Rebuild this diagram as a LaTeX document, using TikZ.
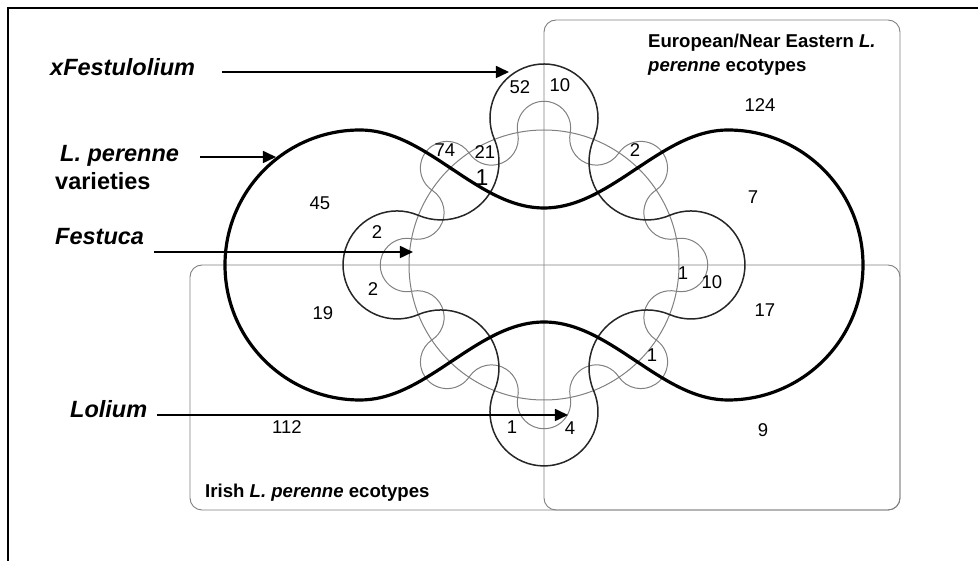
\documentclass[tikz,border=0pt]{standalone}
\usepackage{fontspec}
\setmainfont{Liberation Sans}
\usetikzlibrary{arrows.meta}

\begin{document}
\begin{tikzpicture}[x=1pt,y=1pt,
		box/.style={black!50,line width=0.9pt,rounded corners=12pt},
		festuca/.style={black!50,line width=1pt},
		lolium/.style={black!50,line width=1pt},
		festulolium/.style={black!85,line width=1.5pt},
		varieties/.style={black,line width=3.2pt},
		arr/.style={-{Triangle[length=13pt,width=12pt]},line width=1.6pt},
		lab/.style={font=\fontsize{23.5}{28}\selectfont\bfseries\itshape,inner sep=0pt,anchor=base west},
		num/.style={font=\fontsize{18.5}{20}\selectfont,inner sep=0pt},
		eco/.style={font=\fontsize{18.6}{24}\selectfont\bfseries,inner sep=0pt,anchor=base west}]
		
		\useasboundingbox (-544,-296) rectangle (434,265);
		
		% frame (only top and left side are inside the picture)
		\draw[line width=1.5pt] (-536,-296) -- (-536,257) -- (434,257);
		
		% --- ecotype boxes: European = right half, Irish = lower half ---
		\draw[box] (0,-245) rectangle (356,245);
		\draw[box] (-354,-245) rectangle (356,0);
		
		% Festuca: circle
		\draw[festuca] (0,0) circle[radius=135];
		
		% Lolium: 16 half circles, out and in, round the circle
		\draw[lolium] (0:137) ++(-101.25:26.73)
		\foreach \a in {0,45,...,315}{
			arc[start angle=\a-101.25,end angle=\a+101.25,radius=26.73]
			arc[start angle=\a-78.75,end angle=\a-236.25,radius=26.73]
		} -- cycle;
		
		% xFestulolium: four lobes joined by hollow arcs
		\draw[festulolium] (0,147) ++(-23.1:54)
		\foreach \r in {0,90,180,270}{
			arc[start angle=\r-23.1,end angle=\r+203.1,radius=54]
			arc[start angle=\r+23.1,end angle=\r-113.1,radius=58]
		} -- cycle;
		
		% L. perenne varieties: two big lobes, pinched in the middle
		\draw[varieties] (-184,135) arc[start angle=90,end angle=270,radius=135]
		-- plot[domain=0:360,samples=73] ({-184+\x/180*184},{-96-39*cos(\x)})
		-- (184,-135) arc[start angle=-90,end angle=90,radius=135]
		-- plot[domain=360:0,samples=73] ({-184+\x/180*184},{96+39*cos(\x)})
		-- cycle;
		
		% --- set labels and their arrows ---
		\node[lab] (xfes) at (-494,189) {xFestulolium};
		\node[lab] (lper) at (-484,103) {L. perenne};
		\node[lab,font=\fontsize{23.5}{28}\selectfont\bfseries] (lvar) at (-489,75) {varieties};
		\node[lab] (fes) at (-489,20) {Festuca};
		\node[lab] (lol) at (-474,-153) {Lolium};
		
		\coordinate (xfesA) at (-322,193);
		\coordinate (xfesB) at (-35,193);
		\coordinate (lperA) at (-344,108);
		\coordinate (lperB) at (-268,108);
		\coordinate (fesA) at (-390,13);
		\coordinate (fesB) at (-131,13);
		\coordinate (lolA) at (-387,-150);
		\coordinate (lolB) at (24,-150);
		\draw[arr] (xfesA) -- (xfesB);
		\draw[arr] (lperA) -- (lperB);
		\draw[arr] (fesA) -- (fesB);
		\draw[arr] (lolA) -- (lolB);
		
		\node[eco] (euro) at (104,217) {European/Near Eastern \textit{L.}};
		\node[eco] (euro2) at (104,193) {\textit{perenne} ecotypes};
		\node[eco] (irish) at (-339,-233) {Irish \textit{L. perenne} ecotypes};
		
		% counts
		\foreach \x/\y/\t [count=\i] in {-24/178/52, 16/180/10, 216/160/124,
			-99/115/74, -59/113/21, 91/115/2, -224/62/45, 209/68/7,
			-167/33/2, -171/-24/2, -221/-48/19, 139/-8/1, 168/-17/10,
			221/-45/17, 108/-90/1, -257/-162/112, -32/-162/1, 26/-163/4,
			219/-165/9}{
			\node[num] (n\i) at (\x,\y) {\t};
		}
		\node[num,font=\fontsize{23}{24}\selectfont] (nbig) at (-62,87) {1};
		
	\end{tikzpicture}
\end{document}
